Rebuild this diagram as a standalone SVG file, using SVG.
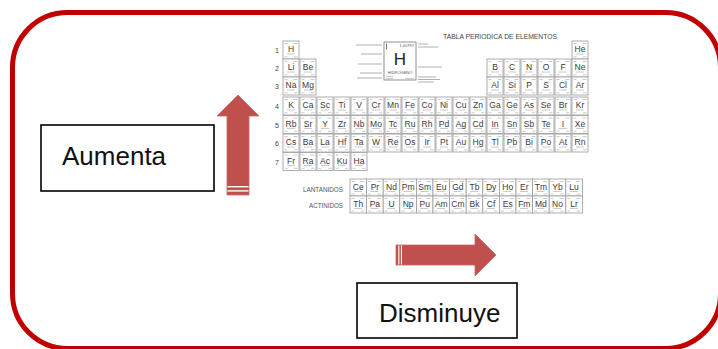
<svg xmlns="http://www.w3.org/2000/svg" xmlns:xlink="http://www.w3.org/1999/xlink" width="718" height="349" viewBox="0 0 718 349">
<style>
.frame{fill:none;stroke:#C00000;stroke-width:5}
.box{fill:#fff;stroke:#000;stroke-width:1.6}
.lbl{font-family:"Liberation Sans",Arial,sans-serif;font-size:26px;fill:#111}
.arrow{fill:#C0504D;stroke:#C96563;stroke-width:0.8}
.stripe{fill:#fff}
.cellr{fill:#fff;stroke:#9a9a9a;stroke-width:0.8}
.deco{stroke:#bdbdbd;stroke-width:0.8;fill:none}
.sym{font-family:"Liberation Sans",Arial,sans-serif;font-size:8.5px;fill:#3a3a3a;text-anchor:middle}
.rn{font-family:"Liberation Sans",Arial,sans-serif;font-size:7px;fill:#444;text-anchor:middle}
.tiny{font-family:"Liberation Sans",Arial,sans-serif;font-size:6.5px;fill:#555}
.mark{stroke:#b0b0b0;stroke-width:1.1}
</style>
<defs>
<g id="cell"><rect class="cellr" width="16" height="18"/><path class="deco" d="M1.5 2.5h3M10.5 2.5h4M4 13h8M1.5 15.8h3M11 15.8h3.5"/></g>
<g id="lcell"><rect class="cellr" width="16.6" height="17"/><path class="deco" d="M1.5 2.5h3M10.5 2.5h4M4 12.5h8M1.5 15h3M11 15h3.5"/></g>
</defs>

<rect id="frame" class="frame" x="12.5" y="12.5" width="708" height="336" rx="55" ry="55"/>

<g id="periodic-table">
<text x="500" y="39" font-family="Liberation Sans, Arial, sans-serif" font-size="8" fill="#444" text-anchor="middle" textLength="114" lengthAdjust="spacingAndGlyphs">TABLA PERIODICA DE ELEMENTOS</text>
<g class="rn">
<text x="277" y="53">1</text><text x="277" y="71">2</text><text x="277" y="89">3</text>
<text x="277" y="109">4</text><text x="277" y="127.5">5</text><text x="277" y="146">6</text><text x="277" y="164.5">7</text>
</g>
<g id="key">
<path class="mark" d="M356 45h26M361 54h21M358 64h24M360 73h22M357 78h25"/>
<path class="mark" d="M418 44h10M418 47h20M418 67h24M418 77h18M418 79.5h22M418 82h16"/>
<rect x="384" y="42" width="32" height="38" fill="#fff" stroke="#777" stroke-width="0.8"/>
<path d="M386.5 43.5v6" stroke="#555" stroke-width="0.8"/>
<text x="414" y="46.5" font-family="Liberation Sans, Arial, sans-serif" font-size="4" fill="#555" text-anchor="end">1.00797</text>
<text x="400" y="65" font-family="Liberation Sans, Arial, sans-serif" font-size="17" fill="#222" text-anchor="middle">H</text>
<text x="400" y="73.5" font-family="Liberation Sans, Arial, sans-serif" font-size="4" fill="#555" text-anchor="middle">HIDROGENO</text>
<path class="deco" d="M386 76.5h7M386 78.5h7M405 78.5h9"/>
</g>
<g id="cells">
<use xlink:href="#cell" x="283" y="41"/><use xlink:href="#cell" x="572" y="41"/>
<use xlink:href="#cell" x="283" y="59"/><use xlink:href="#cell" x="300" y="59"/>
<use xlink:href="#cell" x="487" y="59"/><use xlink:href="#cell" x="504" y="59"/><use xlink:href="#cell" x="521" y="59"/><use xlink:href="#cell" x="538" y="59"/><use xlink:href="#cell" x="555" y="59"/><use xlink:href="#cell" x="572" y="59"/>
<use xlink:href="#cell" x="283" y="77"/><use xlink:href="#cell" x="300" y="77"/>
<use xlink:href="#cell" x="487" y="77"/><use xlink:href="#cell" x="504" y="77"/><use xlink:href="#cell" x="521" y="77"/><use xlink:href="#cell" x="538" y="77"/><use xlink:href="#cell" x="555" y="77"/><use xlink:href="#cell" x="572" y="77"/>
<g transform="translate(0,97)">
<use xlink:href="#cell" x="283"/><use xlink:href="#cell" x="300"/><use xlink:href="#cell" x="317"/><use xlink:href="#cell" x="334"/><use xlink:href="#cell" x="351"/><use xlink:href="#cell" x="368"/><use xlink:href="#cell" x="385"/><use xlink:href="#cell" x="402"/><use xlink:href="#cell" x="419"/><use xlink:href="#cell" x="436"/><use xlink:href="#cell" x="453"/><use xlink:href="#cell" x="470"/><use xlink:href="#cell" x="487"/><use xlink:href="#cell" x="504"/><use xlink:href="#cell" x="521"/><use xlink:href="#cell" x="538"/><use xlink:href="#cell" x="555"/><use xlink:href="#cell" x="572"/>
</g>
<g transform="translate(0,115.5)">
<use xlink:href="#cell" x="283"/><use xlink:href="#cell" x="300"/><use xlink:href="#cell" x="317"/><use xlink:href="#cell" x="334"/><use xlink:href="#cell" x="351"/><use xlink:href="#cell" x="368"/><use xlink:href="#cell" x="385"/><use xlink:href="#cell" x="402"/><use xlink:href="#cell" x="419"/><use xlink:href="#cell" x="436"/><use xlink:href="#cell" x="453"/><use xlink:href="#cell" x="470"/><use xlink:href="#cell" x="487"/><use xlink:href="#cell" x="504"/><use xlink:href="#cell" x="521"/><use xlink:href="#cell" x="538"/><use xlink:href="#cell" x="555"/><use xlink:href="#cell" x="572"/>
</g>
<g transform="translate(0,134)">
<use xlink:href="#cell" x="283"/><use xlink:href="#cell" x="300"/><use xlink:href="#cell" x="317"/><use xlink:href="#cell" x="334"/><use xlink:href="#cell" x="351"/><use xlink:href="#cell" x="368"/><use xlink:href="#cell" x="385"/><use xlink:href="#cell" x="402"/><use xlink:href="#cell" x="419"/><use xlink:href="#cell" x="436"/><use xlink:href="#cell" x="453"/><use xlink:href="#cell" x="470"/><use xlink:href="#cell" x="487"/><use xlink:href="#cell" x="504"/><use xlink:href="#cell" x="521"/><use xlink:href="#cell" x="538"/><use xlink:href="#cell" x="555"/><use xlink:href="#cell" x="572"/>
</g>
<g transform="translate(0,152.5)">
<use xlink:href="#cell" x="283"/><use xlink:href="#cell" x="300"/><use xlink:href="#cell" x="317"/><use xlink:href="#cell" x="334"/><use xlink:href="#cell" x="351"/>
</g>
<g transform="translate(350,179)">
<use xlink:href="#lcell" x="0"/><use xlink:href="#lcell" x="16.6"/><use xlink:href="#lcell" x="33.2"/><use xlink:href="#lcell" x="49.8"/><use xlink:href="#lcell" x="66.4"/><use xlink:href="#lcell" x="83"/><use xlink:href="#lcell" x="99.6"/><use xlink:href="#lcell" x="116.2"/><use xlink:href="#lcell" x="132.8"/><use xlink:href="#lcell" x="149.4"/><use xlink:href="#lcell" x="166"/><use xlink:href="#lcell" x="182.6"/><use xlink:href="#lcell" x="199.2"/><use xlink:href="#lcell" x="215.8"/>
</g>
<g transform="translate(350,196)">
<use xlink:href="#lcell" x="0"/><use xlink:href="#lcell" x="16.6"/><use xlink:href="#lcell" x="33.2"/><use xlink:href="#lcell" x="49.8"/><use xlink:href="#lcell" x="66.4"/><use xlink:href="#lcell" x="83"/><use xlink:href="#lcell" x="99.6"/><use xlink:href="#lcell" x="116.2"/><use xlink:href="#lcell" x="132.8"/><use xlink:href="#lcell" x="149.4"/><use xlink:href="#lcell" x="166"/><use xlink:href="#lcell" x="182.6"/><use xlink:href="#lcell" x="199.2"/><use xlink:href="#lcell" x="215.8"/>
</g>
</g>
<g id="symbols" class="sym">
<text x="291" y="52">H</text><text x="580" y="52">He</text>
<text x="291" y="70">Li</text><text x="308" y="70">Be</text><text x="495" y="70">B</text><text x="512" y="70">C</text><text x="529" y="70">N</text><text x="546" y="70">O</text><text x="563" y="70">F</text><text x="580" y="70">Ne</text>
<text x="291" y="88">Na</text><text x="308" y="88">Mg</text><text x="495" y="88">Al</text><text x="512" y="88">Si</text><text x="529" y="88">P</text><text x="546" y="88">S</text><text x="563" y="88">Cl</text><text x="580" y="88">Ar</text>
<g transform="translate(0,108)">
<text x="291">K</text><text x="308">Ca</text><text x="325">Sc</text><text x="342">Ti</text><text x="359">V</text><text x="376">Cr</text><text x="393">Mn</text><text x="410">Fe</text><text x="427">Co</text><text x="444">Ni</text><text x="461">Cu</text><text x="478">Zn</text><text x="495">Ga</text><text x="512">Ge</text><text x="529">As</text><text x="546">Se</text><text x="563">Br</text><text x="580">Kr</text>
</g>
<g transform="translate(0,126.5)">
<text x="291">Rb</text><text x="308">Sr</text><text x="325">Y</text><text x="342">Zr</text><text x="359">Nb</text><text x="376">Mo</text><text x="393">Tc</text><text x="410">Ru</text><text x="427">Rh</text><text x="444">Pd</text><text x="461">Ag</text><text x="478">Cd</text><text x="495">In</text><text x="512">Sn</text><text x="529">Sb</text><text x="546">Te</text><text x="563">I</text><text x="580">Xe</text>
</g>
<g transform="translate(0,145)">
<text x="291">Cs</text><text x="308">Ba</text><text x="325">La</text><text x="342">Hf</text><text x="359">Ta</text><text x="376">W</text><text x="393">Re</text><text x="410">Os</text><text x="427">Ir</text><text x="444">Pt</text><text x="461">Au</text><text x="478">Hg</text><text x="495">Tl</text><text x="512">Pb</text><text x="529">Bi</text><text x="546">Po</text><text x="563">At</text><text x="580">Rn</text>
</g>
<g transform="translate(0,163.5)">
<text x="291">Fr</text><text x="308">Ra</text><text x="325">Ac</text><text x="342">Ku</text><text x="359">Ha</text>
</g>
<g transform="translate(358.3,189.5)">
<text x="0">Ce</text><text x="16.6">Pr</text><text x="33.2">Nd</text><text x="49.8">Pm</text><text x="66.4">Sm</text><text x="83">Eu</text><text x="99.6">Gd</text><text x="116.2">Tb</text><text x="132.8">Dy</text><text x="149.4">Ho</text><text x="166">Er</text><text x="182.6">Tm</text><text x="199.2">Yb</text><text x="215.8">Lu</text>
</g>
<g transform="translate(358.3,206.5)">
<text x="0">Th</text><text x="16.6">Pa</text><text x="33.2">U</text><text x="49.8">Np</text><text x="66.4">Pu</text><text x="83">Am</text><text x="99.6">Cm</text><text x="116.2">Bk</text><text x="132.8">Cf</text><text x="149.4">Es</text><text x="166">Fm</text><text x="182.6">Md</text><text x="199.2">No</text><text x="215.8">Lr</text>
</g>
</g>
<text class="tiny" x="343" y="191.5" text-anchor="end" textLength="40" lengthAdjust="spacingAndGlyphs">LANTANIDOS</text>
<text class="tiny" x="343" y="208" text-anchor="end" textLength="34" lengthAdjust="spacingAndGlyphs">ACTINIDOS</text>
</g>

<g id="connectors">
<g id="arrow-up">
<polygon class="arrow" points="238,95 259,116 249,116 249,195 227,195 227,116 217,116"/>
<rect class="stripe" x="227.5" y="186" width="21" height="1.4"/>
<rect class="stripe" x="227.5" y="190.2" width="21" height="1.4"/>
</g>
<g id="arrow-right">
<polygon class="arrow" points="496,255 475,234 475,245 396,245 396,265 475,265 475,276"/>
<rect class="stripe" x="398.3" y="245.5" width="1.1" height="19"/>
<rect class="stripe" x="400.9" y="245.5" width="1.1" height="19"/>
</g>
</g>

<g id="node-aumenta">
<rect class="box" x="41" y="125" width="173" height="66"/>
<text class="lbl" x="62" y="165">Aumenta</text>
</g>
<g id="node-disminuye">
<rect class="box" x="357" y="283" width="160" height="55"/>
<text class="lbl" x="379" y="322">Disminuye</text>
</g>
</svg>
